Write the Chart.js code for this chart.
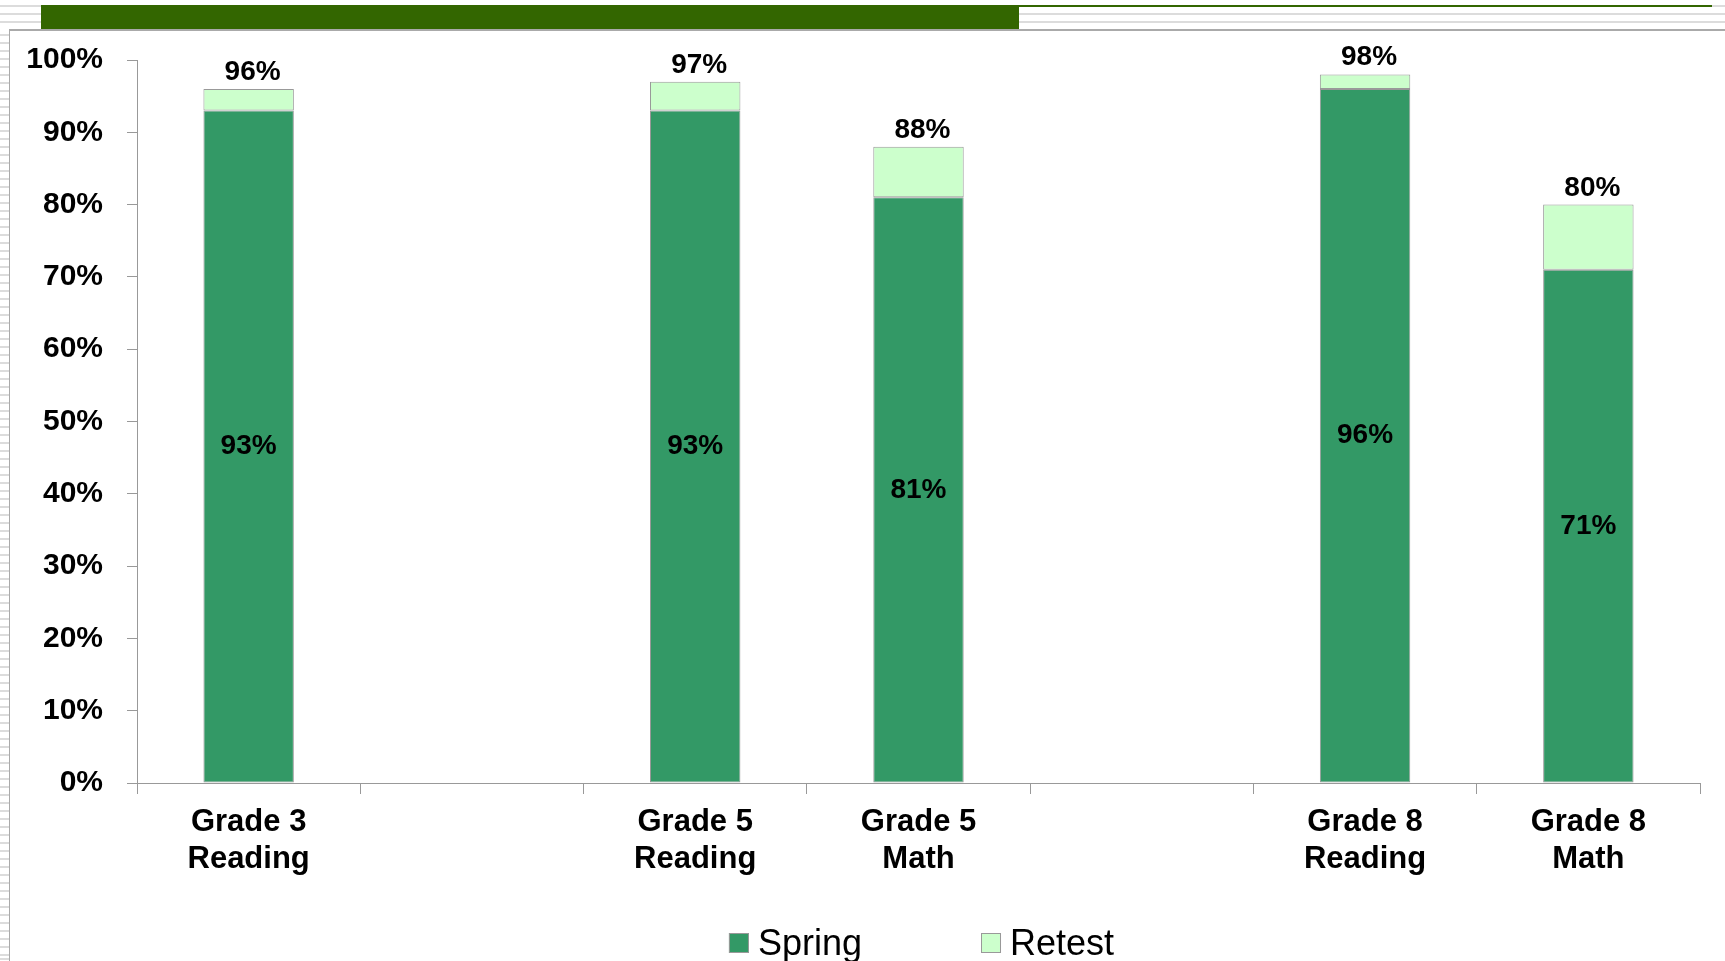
<!DOCTYPE html>
<html>
<head>
<meta charset="utf-8">
<script src="https://cdn.jsdelivr.net/npm/chart.js@4"></script>
<style>
  html, body { margin: 0; padding: 0; background: #fff; overflow: hidden; }
  body { width: 1725px; height: 961px; position: relative; }
  .stripes { position: absolute; background: repeating-linear-gradient(to bottom, #dcdcdc 0 2px, transparent 2px 8px); }
  .stripes-top { left: 0; top: 5px; width: 41px; height: 24px; }
  .stripes-left { left: 0; top: 29px; width: 9px; height: 932px; background-position: 0 -3px; }
  .green-bar { position: absolute; left: 41px; top: 5px; width: 978px; height: 24px; background: #336600; }
  .rule { position: absolute; height: 2px; }
  .box { position: absolute; left: 9px; top: 29px; right: 0; bottom: 0; border-left: 1px solid #aaa; border-top: 2px solid #aaa; background: #fff; }
  .chart-wrap { position: absolute; left: 11px; top: 31px; width: 1714px; height: 930px; }
</style>
</head>
<body>
<div class="stripes stripes-top"></div>
<div class="stripes stripes-left"></div>
<div class="green-bar"></div>
<div class="rule" style="left:1019px; top:5px; width:693px; background:#336600;"></div>
<div class="rule" style="left:1712px; top:5px; width:13px; background:#dcdcdc;"></div>
<div class="rule" style="left:1019px; top:13px; width:706px; background:#dcdcdc;"></div>
<div class="rule" style="left:1019px; top:21px; width:706px; background:#dcdcdc;"></div>
<div class="box"></div>
<div class="chart-wrap"><canvas id="myChart"></canvas></div>

<script>
const categories = [
    ['Grade 3', 'Reading'],
    '',
    ['Grade 5', 'Reading'],
    ['Grade 5', 'Math'],
    '',
    ['Grade 8', 'Reading'],
    ['Grade 8', 'Math']
];
const springValues = [93, null, 93, 81, null, 96, 71];
const retestValues = [3, null, 4, 7, null, 2, 9];
const yTicks = [0, 10, 20, 30, 40, 50, 60, 70, 80, 90, 100];

const FONT = '"Liberation Sans", Arial, sans-serif';

// labels on the bars: spring value in the middle, total on top
const valueLabels = {
    id: 'valueLabels',
    afterDatasetsDraw(chart) {
        const c = chart.ctx;
        const spring = chart.getDatasetMeta(0);
        const retest = chart.getDatasetMeta(1);
        c.save();
        c.fillStyle = '#000';
        c.font = 'bold 28px ' + FONT;
        c.textAlign = 'center';
        springValues.forEach((v, i) => {
            if (v == null) return;
            const bar = spring.data[i];
            c.textBaseline = 'middle';
            c.fillText(v + '%', bar.x, (bar.y + bar.base) / 2);
            const top = retest.data[i];
            c.textBaseline = 'alphabetic';
            c.fillText((v + retestValues[i]) + '%', top.x + 4, top.y - 9);
        });
        c.restore();
    }
};

// legend drawn under the plot, centred on the chart area
const bottomLegend = {
    id: 'bottomLegend',
    afterDraw(chart) {
        const c = chart.ctx;
        const area = chart.chartArea;
        const sets = chart.data.datasets;
        c.save();
        c.font = '36px ' + FONT;
        const box = 20, gap = 9, spacing = 119;
        const widths = sets.map(ds => box + gap + c.measureText(ds.label).width);
        const total = widths.reduce((a, b) => a + b, 0) + spacing * (sets.length - 1);
        let x = (area.left + area.right) / 2 + 3 - total / 2;
        const y = 912;
        sets.forEach((ds, i) => {
            c.fillStyle = ds.backgroundColor;
            c.fillRect(x, y - box / 2, box, box);
            c.strokeStyle = '#999';
            c.lineWidth = 1;
            c.strokeRect(x + 0.5, y - box / 2 + 0.5, box - 1, box - 1);
            c.fillStyle = '#000';
            c.textAlign = 'left';
            c.textBaseline = 'middle';
            c.fillText(ds.label, x + box + gap, y + 2);
            x += widths[i] + spacing;
        });
        c.restore();
    }
};

const ctx = document.getElementById('myChart').getContext('2d');

const myChart = new Chart(ctx, {
    type: 'bar',
    data: {
        labels: categories,
        datasets: [{
            label: 'Spring',
            data: springValues,
            backgroundColor: '#339966',
            borderColor: '#999999',
            borderWidth: 1,
            borderSkipped: false
        }, {
            label: 'Retest',
            data: retestValues,
            backgroundColor: '#CCFFCC',
            borderColor: '#999999',
            borderWidth: 1,
            borderSkipped: false
        }]
    },
    options: {
        responsive: true,
        maintainAspectRatio: false,
        animation: false,
        layout: {
            padding: { left: 0, right: 25, top: 29, bottom: 78 }
        },
        datasets: {
            bar: { barPercentage: 0.405, categoryPercentage: 1 }
        },
        plugins: {
            legend: { display: false },
            tooltip: { enabled: false }
        },
        scales: {
            x: {
                stacked: true,
                grid: { drawOnChartArea: false, offset: true, tickLength: 11, color: '#999' },
                border: { color: '#999' },
                ticks: {
                    color: '#000',
                    padding: 10,
                    maxRotation: 0,
                    autoSkip: false,
                    font: { family: FONT, size: 31, weight: 'bold', lineHeight: 1.2 }
                },
                afterFit(scale) { scale.height = 100; }
            },
            y: {
                stacked: true,
                min: 0,
                max: 100,
                afterBuildTicks(scale) { scale.ticks = yTicks.map(v => ({ value: v })); },
                grid: { drawOnChartArea: false, tickLength: 10, color: '#999' },
                border: { color: '#999' },
                ticks: {
                    color: '#000',
                    padding: 24,
                    callback: v => v + '%',
                    font: { family: FONT, size: 30, weight: 'bold' }
                },
                afterFit(scale) {
                    scale.width = 126;
                    scale.paddingTop = 0;
                    scale.paddingBottom = 0;
                }
            }
        }
    },
    plugins: [valueLabels, bottomLegend]
});
</script>
</body>
</html>
